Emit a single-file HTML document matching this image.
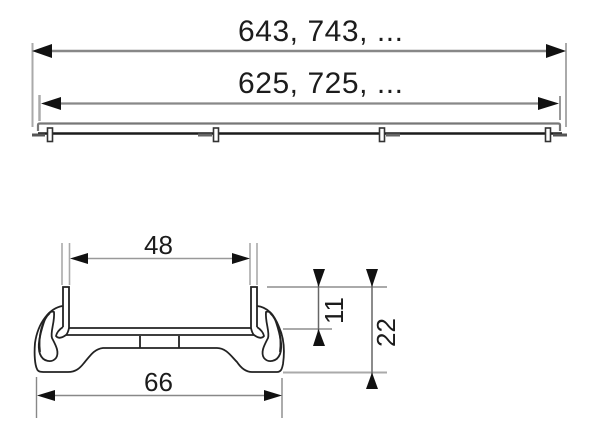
<!DOCTYPE html>
<html>
<head>
<meta charset="utf-8">
<style>
html,body{margin:0;padding:0;background:#fff;}
svg{display:block;filter:blur(0.35px);}
text{font-family:"Liberation Sans",sans-serif;fill:#1c1c1c;}
</style>
</head>
<body>
<svg width="600" height="443" viewBox="0 0 600 443" xmlns="http://www.w3.org/2000/svg">
<g fill="none" stroke-linecap="butt">
<!-- top dimension -->
<line x1="32.5" y1="43" x2="32.5" y2="127" stroke="#aaa" stroke-width="2"/>
<line x1="566" y1="43" x2="566" y2="127" stroke="#aaa" stroke-width="2"/>
<line x1="50" y1="51" x2="548" y2="51" stroke="#888" stroke-width="2.6"/>
<line x1="39.5" y1="95" x2="39.5" y2="121" stroke="#aaa" stroke-width="2.5"/>
<line x1="560" y1="96" x2="560" y2="120" stroke="#777" stroke-width="1.5"/>
<line x1="58" y1="103.5" x2="540" y2="103.5" stroke="#888" stroke-width="2.2"/>
<!-- rail -->
<path d="M38 131V125Q38 123.5 40 123.5H558Q560 123.5 560 125V131" stroke="#777" stroke-width="2.2"/>
<line x1="38" y1="133.5" x2="562" y2="133.5" stroke="#1c1c1c" stroke-width="2.4"/>
<line x1="32" y1="135" x2="45" y2="135" stroke="#555" stroke-width="3"/>
<line x1="553" y1="135" x2="567" y2="135" stroke="#555" stroke-width="3"/>
<line x1="198" y1="135" x2="212" y2="135" stroke="#666" stroke-width="3"/>
<line x1="386" y1="135" x2="400" y2="135" stroke="#666" stroke-width="3"/>
<g fill="#fff" stroke="#333" stroke-width="1.6">
<rect x="47.5" y="128" width="5" height="13.5"/>
<rect x="213.5" y="128" width="5" height="13.5"/>
<rect x="379.5" y="128" width="5" height="13.5"/>
<rect x="545.5" y="128" width="5" height="13.5"/>
</g>
<!-- 48 dim -->
<g stroke="#aaa" stroke-width="1.6">
<line x1="62" y1="243" x2="62" y2="285"/>
<line x1="69.5" y1="243" x2="69.5" y2="285"/>
<line x1="250" y1="243" x2="250" y2="285"/>
<line x1="257" y1="243" x2="257" y2="285"/>
</g>
<line x1="85" y1="258.5" x2="235" y2="258.5" stroke="#999" stroke-width="1.6"/>
<!-- profile -->
<g stroke="#222" stroke-width="1.8">
<path d="M63 327V287H69V328H251V287H257V327"/>
<path d="M66 335H254"/>
<path d="M63 327Q57 331 56 336Q59 340 66 335Q68 333 69 328"/>
<path d="M257 327Q263 331 264 336Q261 340 254 335Q252 333 251 328"/>
<path d="M62.5 306C50 308 38 322 35 343C34 355 35 365 37 369C38 372 41 372 45 372H68C76 372 80 368 84 363C90 356 94 349 103 348H217C226 348 231 356 237 362C241 368 246 372 252 372H277C281 372 282 369 283 364C285 350 284 338 279 327C274 314 267 307 257 306"/>
<path d="M40 352C38 336 42 320 50 313"/>
<path d="M280 352C282 336 278 320 270 313"/>
<path d="M54 312C50 310 46 316 44 322C40 334 37 346 40 354C43 362 52 363 56 358C60 352 55 344 52 338C50 332 55 322 54 312Z"/>
<path d="M266 312C270 310 274 316 276 322C280 334 283 346 280 354C277 362 268 363 264 358C260 352 265 344 268 338C270 332 265 322 266 312Z"/>
<line x1="140" y1="336" x2="140" y2="348"/>
<line x1="179" y1="336" x2="179" y2="348"/>
</g>
<!-- 66 dim -->
<line x1="36.5" y1="377" x2="36.5" y2="418" stroke="#888" stroke-width="1.4"/>
<line x1="282" y1="378" x2="282" y2="418" stroke="#888" stroke-width="1.4"/>
<line x1="50" y1="395.5" x2="268" y2="395.5" stroke="#888" stroke-width="1.6"/>
<!-- right dims -->
<g stroke="#aaa" stroke-width="2">
<line x1="267" y1="287" x2="387" y2="287"/>
<line x1="283" y1="329" x2="332" y2="329"/>
<line x1="283" y1="372.5" x2="387" y2="372.5"/>
</g>
<line x1="318.5" y1="275" x2="318.5" y2="340" stroke="#666" stroke-width="1.5"/>
<line x1="372" y1="275" x2="372" y2="380" stroke="#666" stroke-width="1.5"/>
</g>
<!-- arrowheads -->
<g fill="#111">
<polygon points="32,51 52,44 52,58"/>
<polygon points="566,51 546,44 546,58"/>
<polygon points="41,103.5 61,97 61,110"/>
<polygon points="559,103.5 538,97 538,110"/>
<polygon points="70,258.5 88,253 88,264"/>
<polygon points="250,258.5 232,253 232,264"/>
<polygon points="37,395.5 55,390 55,401"/>
<polygon points="282,395.5 264,390 264,401"/>
<polygon points="318.5,287 313,269 325,269"/>
<polygon points="318.5,329 313,346 325,346"/>
<polygon points="372,287 366,269 378,269"/>
<polygon points="372,372.5 366,389 378,389"/>
</g>
<!-- labels -->
<text x="238" y="41" font-size="30" textLength="165" lengthAdjust="spacing">643, 743, ...</text>
<text x="238" y="93" font-size="30" textLength="165" lengthAdjust="spacing">625, 725, ...</text>
<text x="144" y="254" font-size="26">48</text>
<text x="144" y="391" font-size="26">66</text>
<text transform="translate(343,324) rotate(-90)" font-size="26">11</text>
<text transform="translate(395,347) rotate(-90)" font-size="26">22</text>
</svg>
</body>
</html>
